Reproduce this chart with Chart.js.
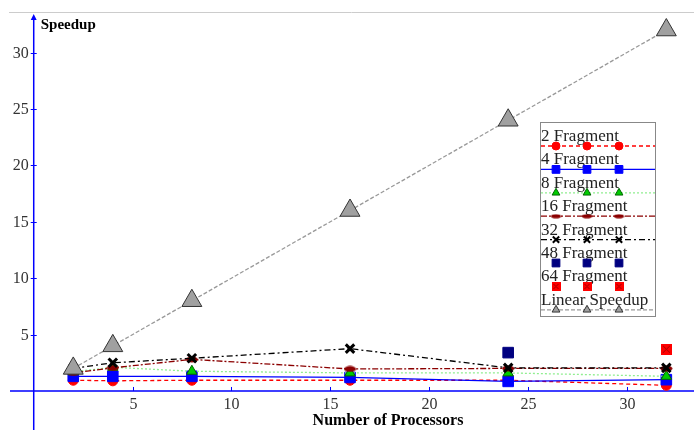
<!DOCTYPE html>
<html>
<head>
<meta charset="utf-8">
<script src="https://cdn.jsdelivr.net/npm/chart.js@4"></script>
<style>
  html, body { margin: 0; padding: 0; background: #fff; }
  #wrap { width: 694px; height: 430px; }
</style>
</head>
<body>
<div id="wrap"><canvas id="speedChart" width="694" height="430"></canvas></div>
<script>
// datos
const processors = [2, 4, 8, 16, 24, 32];
const frag2  = [0.95, 0.9, 0.95, 0.95, 0.95, 0.5];
const frag4  = [1.3, 1.3, 1.3, 1.2, 0.85, 1.0];
const frag8  = [1.7, 2.1, 1.75, 1.6, 1.6, 1.3];
const frag16 = [1.6, 2.05, 2.8, 1.95, 2.0, 2.0];
const frag32 = [2.0, 2.5, 2.9, 3.75, 2.05, 2.05];
const frag48 = [null, null, null, null, 3.4, null];
const frag64 = [null, null, null, null, null, 3.7];
const linear = [2, 4, 8, 16, 24, 32];
const xTicks = [5, 10, 15, 20, 25, 30];
const yTicks = [5, 10, 15, 20, 25, 30];
const seriesNames = ['2 Fragment', '4 Fragment', '8 Fragment', '16 Fragment',
                     '32 Fragment', '48 Fragment', '64 Fragment', 'Linear Speedup'];

const SERIF = '"Liberation Serif", "DejaVu Serif", serif';

// marcadores especiales (elipse y cuadro con aspa)
function makeEllipse(w, h) {
    const c = document.createElement('canvas');
    c.width = w; c.height = h;
    const g = c.getContext('2d');
    g.fillStyle = '#8b0000';
    g.beginPath();
    g.ellipse(w / 2, h / 2, w / 2 - 0.5, h / 2 - 0.5, 0, 0, Math.PI * 2);
    g.fill();
    return c;
}
function makeXSquare(s) {
    const c = document.createElement('canvas');
    c.width = s; c.height = s;
    const g = c.getContext('2d');
    g.fillStyle = '#ff0000';
    g.fillRect(0, 0, s, s);
    g.strokeStyle = '#a00000';
    g.lineWidth = 1;
    g.beginPath();
    g.moveTo(2, 2); g.lineTo(s - 2, s - 2);
    g.moveTo(s - 2, 2); g.lineTo(2, s - 2);
    g.stroke();
    return c;
}
const ellipseImg = makeEllipse(13, 7);
const xSquareImg = makeXSquare(11);
const ellipseSmall = makeEllipse(11, 5);
const xSquareSmall = makeXSquare(9);

function pts(arr) {
    return processors.map((p, i) => ({ x: p, y: arr[i] }));
}

const seriesStyles = [
    { data: frag2,  color: '#ff0000', fill: '#ff0000', dash: [4, 3], width: 1.3, style: 'circle', radius: 5 },
    { data: frag4,  color: '#0000ff', fill: '#0000ff', dash: [], width: 1.3, style: 'rect', radius: 7.5 },
    { data: frag8,  color: '#90ee90', fill: '#00cc00', dash: [2, 2], width: 1.3, style: 'triangle', radius: 6, pborder: '#006400' },
    { data: frag16, color: '#8b0000', fill: '#8b0000', dash: [6, 2, 2, 2], width: 1.3, style: ellipseImg, radius: 6 },
    { data: frag32, color: '#000000', fill: '#000000', dash: [6, 3, 2, 3], width: 1.3, style: 'crossRot', radius: 6, pwidth: 3 },
    { data: frag48, color: '#000080', fill: '#000080', dash: [], width: 0, style: 'rect', radius: 7.5, noLine: true },
    { data: frag64, color: '#ff0000', fill: '#ff0000', dash: [], width: 0, style: xSquareImg, radius: 6.5, noLine: true },
    { data: linear, color: '#999999', fill: '#a0a0a0', dash: [4, 2], width: 1.3, style: 'triangle', radius: 11.5, pborder: '#333333' }
];
const legendMarks = [
    { r: 4 }, { r: 5.5 }, { r: 4.5 }, { img: ellipseSmall }, { r: 4.5 },
    { r: 5.5 }, { img: xSquareSmall }, { r: 4.5 }
];

const datasets = seriesStyles.map((s, i) => ({
    label: seriesNames[i],
    data: pts(s.data),
    borderColor: s.color,
    borderWidth: s.width,
    borderDash: s.dash,
    showLine: !s.noLine,
    spanGaps: false,
    pointStyle: s.style,
    pointRadius: s.radius,
    pointBackgroundColor: s.fill,
    pointBorderColor: s.pborder || s.color,
    pointBorderWidth: s.pwidth || 1,
    tension: 0,
    order: 10 - i
}));

// ejes, textos y leyenda dibujados con las escalas del gráfico
const axesPlugin = {
    id: 'axesPlugin',
    beforeDatasetsDraw(chart) {
        const ctx = chart.ctx;
        const xs = chart.scales.x, ys = chart.scales.y;
        const x0 = xs.getPixelForValue(0), y0 = ys.getPixelForValue(0);
        ctx.save();
        // línea gris superior
        ctx.strokeStyle = '#cccccc';
        ctx.lineWidth = 1;
        ctx.beginPath();
        ctx.moveTo(9, 12.5); ctx.lineTo(694, 12.5);
        ctx.stroke();

        ctx.strokeStyle = '#0000ff';
        ctx.fillStyle = '#0000ff';
        ctx.lineWidth = 1.5;
        ctx.beginPath();
        ctx.moveTo(chart.chartArea.left, y0); ctx.lineTo(chart.chartArea.right, y0);
        ctx.moveTo(x0, chart.chartArea.bottom); ctx.lineTo(x0, chart.chartArea.top + 4);
        ctx.stroke();
        // flecha
        ctx.beginPath();
        ctx.moveTo(x0, chart.chartArea.top);
        ctx.lineTo(x0 - 3, chart.chartArea.top + 6);
        ctx.lineTo(x0 + 3, chart.chartArea.top + 6);
        ctx.closePath();
        ctx.fill();

        ctx.lineWidth = 1;
        ctx.font = '16px ' + SERIF;
        ctx.fillStyle = '#333333';
        xTicks.forEach(v => {
            const px = Math.round(xs.getPixelForValue(v)) + 0.5;
            ctx.beginPath();
            ctx.moveTo(px, y0 - 4); ctx.lineTo(px, y0);
            ctx.stroke();
            ctx.textAlign = 'center';
            ctx.textBaseline = 'middle';
            ctx.fillText(String(v), px, y0 + 14);
        });
        yTicks.forEach(v => {
            const py = Math.round(ys.getPixelForValue(v)) + 0.5;
            ctx.beginPath();
            ctx.moveTo(x0 - 3, py); ctx.lineTo(x0 + 3, py);
            ctx.stroke();
            ctx.textAlign = 'right';
            ctx.textBaseline = 'middle';
            ctx.fillText(String(v), x0 - 5, py);
        });

        ctx.fillStyle = '#000000';
        ctx.font = 'bold 15px ' + SERIF;
        ctx.textAlign = 'left';
        ctx.textBaseline = 'alphabetic';
        ctx.fillText('Speedup', x0 + 7, 29);
        ctx.font = 'bold 16px ' + SERIF;
        ctx.textAlign = 'center';
        ctx.fillText('Number of Processors', 388, 425);
        ctx.restore();
    },
    afterDraw(chart) {
        const ctx = chart.ctx;
        const left = 540, top = 122, w = 115, h = 194;
        ctx.save();
        ctx.fillStyle = '#ffffff';
        ctx.fillRect(left, top, w, h);
        ctx.strokeStyle = '#888888';
        ctx.lineWidth = 1;
        ctx.strokeRect(left + 0.5, top + 0.5, w, h);
        chart.data.datasets.forEach((ds, i) => {
            const lineY = 146 + i * 23.4;
            ctx.fillStyle = '#222222';
            ctx.font = '17px ' + SERIF;
            ctx.textAlign = 'left';
            ctx.textBaseline = 'alphabetic';
            ctx.fillText(ds.label, left + 1, lineY - 5);
            if (ds.showLine) {
                ctx.strokeStyle = ds.borderColor;
                ctx.lineWidth = ds.borderWidth;
                ctx.setLineDash(ds.borderDash);
                ctx.beginPath();
                ctx.moveTo(left + 1, lineY); ctx.lineTo(left + w, lineY);
                ctx.stroke();
                ctx.setLineDash([]);
            }
            const mk = legendMarks[i];
            [556, 587, 619].forEach(mx => {
                if (mk.img) {
                    ctx.drawImage(mk.img, mx - mk.img.width / 2, lineY - mk.img.height / 2);
                    return;
                }
                ctx.fillStyle = ds.pointBackgroundColor;
                ctx.strokeStyle = ds.pointBorderColor;
                ctx.lineWidth = ds.label === '32 Fragment' ? 2 : ds.pointBorderWidth;
                Chart.helpers.drawPoint(ctx, {
                    pointStyle: ds.pointStyle, radius: mk.r, rotation: 0,
                    borderWidth: ctx.lineWidth
                }, mx, lineY);
            });
        });
        ctx.restore();
    }
};

new Chart(document.getElementById('speedChart'), {
    type: 'scatter',
    data: { datasets: datasets },
    options: {
        responsive: false,
        animation: false,
        layout: { autoPadding: false, padding: { left: 10, right: 0, top: 14, bottom: 0 } },
        plugins: { legend: { display: false }, tooltip: { enabled: false } },
        scales: {
            x: { type: 'linear', min: -1.2, max: 33.4, display: false },
            y: { type: 'linear', min: -3.46, max: 33.42, display: false }
        }
    },
    plugins: [axesPlugin]
});
</script>
</body>
</html>
